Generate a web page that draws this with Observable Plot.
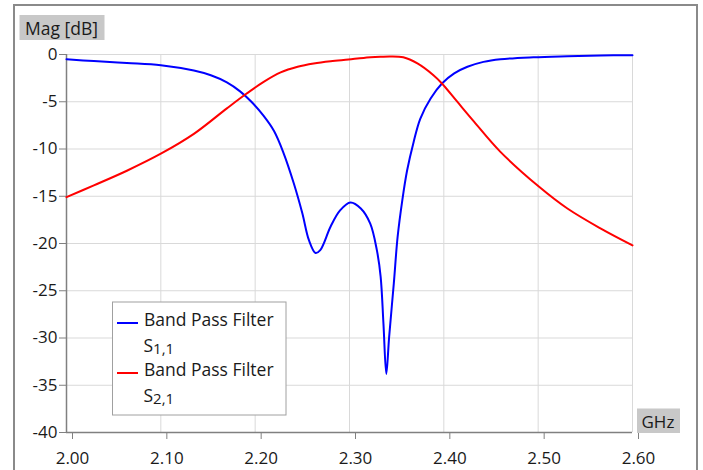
<!DOCTYPE html>
<html>
<head>
<meta charset="utf-8">
<script src="https://cdn.jsdelivr.net/npm/d3@7"></script>
<script src="https://cdn.jsdelivr.net/npm/@observablehq/plot@0.6"></script>
<style>
  html, body { margin: 0; padding: 0; background: #fff; }
  svg { display: block; }
</style>
</head>
<body>
<div id="chart"></div>
<script>
// Frequency (GHz) and magnitude (dB)
const freqS11 = [2.000, 2.029, 2.064, 2.100, 2.135, 2.153, 2.170, 2.184, 2.196, 2.209, 2.220, 2.230, 2.241, 2.250, 2.257, 2.264, 2.269, 2.280, 2.290, 2.301, 2.312, 2.322, 2.329, 2.333, 2.336, 2.339, 2.342, 2.347, 2.351, 2.356, 2.361, 2.368, 2.375, 2.386, 2.398, 2.411, 2.425, 2.442, 2.460, 2.495, 2.531, 2.566, 2.600];
const magS11  = [-0.5, -0.7, -0.9, -1.13, -1.7, -2.2, -2.95, -3.9, -5.0, -6.5, -8.1, -10.4, -13.65, -16.8, -19.65, -21.0, -20.7, -18.2, -16.5, -15.66, -16.3, -17.9, -20.7, -23.5, -28.5, -33.8, -29.9, -24.2, -19.3, -15.4, -12.3, -9.25, -6.8, -4.66, -3.07, -2.0, -1.3, -0.78, -0.5, -0.29, -0.18, -0.1, -0.07];

const freqS21 = [2.000, 2.029, 2.064, 2.100, 2.135, 2.170, 2.191, 2.209, 2.227, 2.245, 2.262, 2.280, 2.299, 2.315, 2.333, 2.343, 2.357, 2.372, 2.389, 2.398, 2.414, 2.432, 2.460, 2.501, 2.531, 2.566, 2.600];
const magS21  = [-15.1, -13.85, -12.3, -10.5, -8.4, -5.7, -4.13, -2.9, -1.9, -1.3, -0.95, -0.71, -0.53, -0.36, -0.25, -0.21, -0.3, -0.95, -2.2, -3.07, -4.97, -7.1, -10.3, -14.0, -16.3, -18.4, -20.2];

const xTicks = [2.0, 2.1, 2.2, 2.3, 2.4, 2.5, 2.6];
const yTicks = [0, -5, -10, -15, -20, -25, -30, -35, -40];

const seriesNames = ["Band Pass Filter", "Band Pass Filter"];
const seriesSubs = [["S", "1,1"], ["S", "2,1"]];
const seriesColors = ["#0000ff", "#ff0000"];

const s11 = freqS11.map((f, i) => ({f, m: magS11[i]}));
const s21 = freqS21.map((f, i) => ({f, m: magS21[i]}));

const FONT = "'Open Sans', 'Noto Sans', sans-serif";

const plot = Plot.plot({
  width: 703,
  height: 470,
  marginLeft: 66,
  marginRight: 71,
  marginTop: 54,
  marginBottom: 38,
  style: {fontFamily: FONT, fontSize: "17px", color: "#1a1a1a", background: "#fff"},
  x: {domain: [2.0, 2.6], label: null},
  y: {domain: [-40, 0], label: null},
  marks: [
    Plot.gridX(xTicks, {stroke: "#d9d9d9", strokeOpacity: 1, strokeWidth: 1}),
    Plot.gridY(yTicks, {stroke: "#d9d9d9", strokeOpacity: 1, strokeWidth: 1}),
    Plot.ruleX([2.0], {stroke: "#808080", strokeWidth: 1.5}),
    Plot.ruleY([-40], {stroke: "#808080", strokeWidth: 1.5}),
    Plot.axisX(xTicks, {tickSize: 7, tickPadding: 12, dx: 6, stroke: "#808080", fill: "#1a1a1a", tickFormat: d => d.toFixed(2), label: null}),
    Plot.axisY(yTicks, {tickSize: 7, tickPadding: 2, stroke: "#808080", fill: "#1a1a1a", tickFormat: d => String(d), label: null}),
    Plot.line(s11, {x: "f", y: "m", stroke: seriesColors[0], strokeWidth: 2, curve: "catmull-rom"}),
    Plot.line(s21, {x: "f", y: "m", stroke: seriesColors[1], strokeWidth: 2, curve: "catmull-rom"})
  ]
});

document.getElementById("chart").appendChild(plot);

// Decorations: outer frame, axis unit boxes, legend
const svg = d3.select(plot);
const deco = svg.append("g").attr("font-family", FONT).attr("fill", "#1a1a1a").attr("text-anchor", "start");

deco.append("rect")
  .attr("x", 14).attr("y", 5).attr("width", 683).attr("height", 480)
  .attr("fill", "none").attr("stroke", "#8a8a8a").attr("stroke-width", 2);

// "Mag [dB]" box
deco.append("rect").attr("x", 19.5).attr("y", 15).attr("width", 85).attr("height", 25).attr("fill", "#c8c8c8");
deco.append("text").attr("x", 25).attr("y", 34.5).attr("font-size", 17.5).text("Mag [dB]");

// "GHz" box
deco.append("rect").attr("x", 637).attr("y", 408.5).attr("width", 43).attr("height", 24.5).attr("fill", "#c8c8c8");
deco.append("text").attr("x", 641.5).attr("y", 427.5).attr("font-size", 17).text("GHz");

// Legend
const lg = deco.append("g");
lg.append("rect").attr("x", 112.5).attr("y", 302).attr("width", 173.5).attr("height", 113)
  .attr("fill", "#fff").attr("stroke", "#a0a0a0").attr("stroke-width", 1);
const rowBase = [326, 376];
seriesNames.forEach((name, i) => {
  const b = rowBase[i];
  lg.append("line").attr("x1", 117).attr("x2", 138).attr("y1", b - 3).attr("y2", b - 3)
    .attr("stroke", seriesColors[i]).attr("stroke-width", 2);
  lg.append("text").attr("x", 144).attr("y", b).attr("font-size", 17.5).text(name);
  const t = lg.append("text").attr("x", 143.5).attr("y", b + 25.5).attr("font-size", 17.5);
  t.append("tspan").text(seriesSubs[i][0]);
  t.append("tspan").attr("font-size", 15).attr("dy", 2).text(seriesSubs[i][1]);
});
</script>
</body>
</html>
